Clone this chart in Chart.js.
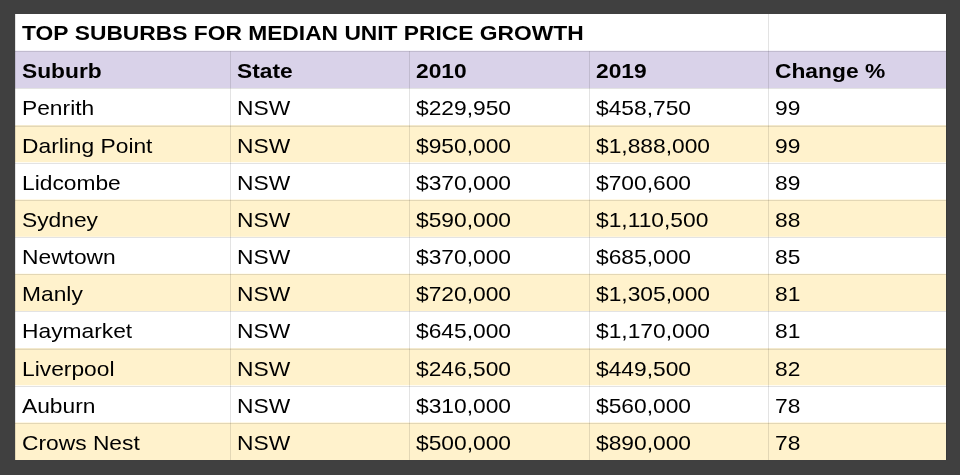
<!DOCTYPE html>
<html>
<head>
<meta charset="utf-8">
<script src="https://cdn.jsdelivr.net/npm/chart.js@4.4.1/dist/chart.umd.min.js"></script>
<style>
  html, body { margin: 0; padding: 0; background: #404040; }
  canvas { display: block; }
</style>
</head>
<body>
<canvas id="myChart" width="960" height="475"></canvas>
<script>
const title = "TOP SUBURBS FOR MEDIAN UNIT PRICE GROWTH";
const headers = ["Suburb", "State", "2010", "2019", "Change %"];
const suburbs = ["Penrith", "Darling Point", "Lidcombe", "Sydney", "Newtown", "Manly", "Haymarket", "Liverpool", "Auburn", "Crows Nest"];
const states = ["NSW", "NSW", "NSW", "NSW", "NSW", "NSW", "NSW", "NSW", "NSW", "NSW"];
const price2010 = [229950, 950000, 370000, 590000, 370000, 720000, 645000, 246500, 310000, 500000];
const price2019 = [458750, 1888000, 700600, 1110500, 685000, 1305000, 1170000, 449500, 560000, 890000];
const changePct = [99, 99, 89, 88, 85, 81, 81, 82, 78, 78];

// column widths (layout)
const colWidths = [215, 179, 180, 179, 178];
const colEdges = [0];
colWidths.forEach((w) => colEdges.push(colEdges[colEdges.length - 1] + w));
const totalWidth = colEdges[colEdges.length - 1];

const rowLabels = ["title", "header"].concat(suburbs);
const rowColors = rowLabels.map((r, i) => {
  if (i === 0) return "#ffffff";
  if (i === 1) return "#d9d2e9";
  return i % 2 === 0 ? "#ffffff" : "#fff2cc";
});

const money = (v) => "$" + v.toLocaleString("en-US");

const cellText = (row, col) => {
  if (row === 1) return headers[col];
  const i = row - 2;
  return [suburbs[i], states[i], money(price2010[i]), money(price2019[i]), String(changePct[i])][col];
};

const FONT = "21px 'Liberation Sans', Arial, sans-serif";
const STRETCH = 1.085;

const drawText = (ctx, text, px, py) => {
  ctx.save();
  ctx.translate(px, py);
  ctx.scale(STRETCH, 1);
  ctx.fillText(text, 0, 0);
  ctx.restore();
};

const tablePlugin = {
  id: "tableText",
  afterDatasetsDraw: (chart) => {
    const ctx = chart.ctx;
    const x = chart.scales.x;
    const y = chart.scales.y;
    const h = (y.bottom - y.top) / rowLabels.length;
    ctx.save();

    // grid lines
    ctx.lineWidth = 1;
    ctx.strokeStyle = "rgba(0,0,0,0.11)";
    for (let r = 0; r < rowLabels.length; r++) {
      const top = y.getPixelForValue(r) - h / 2;
      const bot = top + h;
      if (r > 0) {
        ctx.beginPath();
        ctx.moveTo(x.left, Math.round(top) + 0.5);
        ctx.lineTo(x.right, Math.round(top) + 0.5);
        ctx.stroke();
      }
      for (let c = 0; c < colEdges.length; c++) {
        if (r === 0 && c > 0 && c < 4) continue;
        const px = Math.round(x.getPixelForValue(colEdges[c])) + 0.5;
        ctx.beginPath();
        ctx.moveTo(px, top);
        ctx.lineTo(px, bot);
        ctx.stroke();
      }
    }

    // texts
    ctx.fillStyle = "#000000";
    ctx.textBaseline = "alphabetic";
    ctx.textAlign = "left";
    ctx.font = "bold " + FONT;
    drawText(ctx, title, x.getPixelForValue(0) + 7, y.getPixelForValue(0) + 7.5);
    for (let r = 1; r < rowLabels.length; r++) {
      ctx.font = (r === 1 ? "bold " : "") + FONT;
      for (let c = 0; c < headers.length; c++) {
        drawText(ctx, cellText(r, c), x.getPixelForValue(colEdges[c]) + 7, y.getPixelForValue(r) + 8.5);
      }
    }
    ctx.restore();
  },
};

const ctx = document.getElementById("myChart").getContext("2d");
const myChart = new Chart(ctx, {
  type: "bar",
  data: {
    labels: rowLabels,
    datasets: [
      {
        label: "rows",
        data: rowLabels.map(() => [0, totalWidth]),
        backgroundColor: rowColors,
        borderWidth: 0,
        barPercentage: 1,
        categoryPercentage: 1,
      },
    ],
  },
  options: {
    indexAxis: "y",
    responsive: false,
    animation: false,
    layout: { padding: { left: 15, right: 14, top: 14, bottom: 15 } },
    plugins: {
      legend: { display: false },
      tooltip: { enabled: false },
    },
    scales: {
      x: { type: "linear", min: 0, max: totalWidth, display: false },
      y: { type: "category", display: false },
    },
  },
  plugins: [tablePlugin],
});
</script>
</body>
</html>
